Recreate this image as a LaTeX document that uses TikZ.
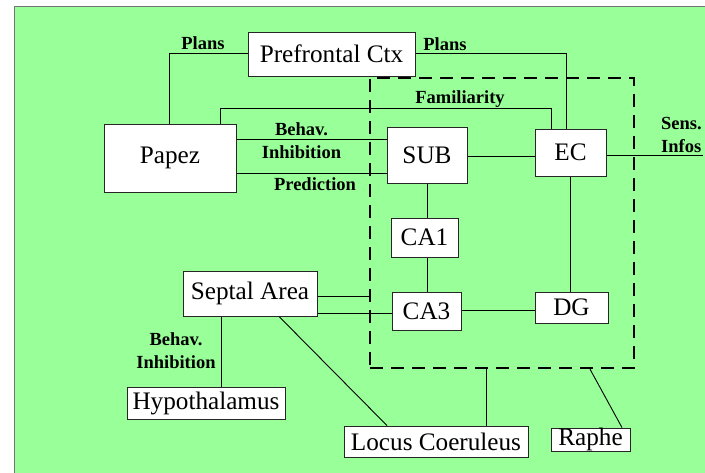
\documentclass[tikz,border=0pt]{standalone}
\usepackage{fontspec}
\setmainfont{Liberation Serif}
\usetikzlibrary{backgrounds}
\begin{document}
\begin{tikzpicture}[x=1pt,y=-1pt,
  box/.style={draw=black!85, line width=0.9pt, fill=white, inner sep=0pt, font=\fontsize{25.2}{28}\selectfont},
  lbl/.style={inner sep=0pt, font=\fontsize{18.5}{22.5}\selectfont\bfseries},
  conn/.style={draw=black, line width=0.9pt},
  hipbox/.style={draw=black, line width=2.3pt, dash pattern=on 13pt off 8pt, inner sep=0pt}
]
\useasboundingbox (0,0) rectangle (705,472);

% boxes
\node[box, minimum width=167pt, minimum height=44pt] (pfc) at (331.5,54) {Prefrontal Ctx};
\node[box, minimum width=132pt, minimum height=68pt] (papez) at (170,158) {Papez};
\node[box, minimum width=80pt, minimum height=56pt] (sub) at (427,155) {SUB};
\node[box, minimum width=71pt, minimum height=47pt] (ec) at (570.5,152.5) {EC};
\node[box, minimum width=67pt, minimum height=39pt] (ca1) at (424.5,237.5) {CA1};
\node[box, minimum width=69pt, minimum height=38pt] (ca3) at (426.5,311) {CA3};
\node[box, minimum width=73pt, minimum height=31pt] (dg) at (571.5,307.5) {DG};
\node[box, minimum width=134pt, minimum height=45pt] (sep) at (250,293.5) {Septal Area};
\node[box, minimum width=158pt, minimum height=32pt] (hyp) at (206,403) {Hypothalamus};
\node[box, minimum width=184pt, minimum height=31pt] (lc) at (436,441.5) {Locus Coeruleus};
\node[box, minimum width=79pt, minimum height=23pt] (raphe) at (590.5,439.5) {Raphe};

\coordinate (sens) at (703,155);

% labels
\node[lbl] (l1) at (203,43) {Plans};
\node[lbl] (l2) at (445,44) {Plans};
\node[lbl] (l3) at (460,99) {Familiarity};
\node[lbl, align=center] (l4) at (301.5,140.5) {Behav.\\Inhibition};
\node[lbl] (l5) at (315,184.5) {Prediction};
\node[lbl, align=center] (l6) at (176,350.5) {Behav.\\Inhibition};
\node[lbl, align=left, anchor=west] (l7) at (661,135) {Sens.\\Infos};

\begin{pgfonlayer}{background}
\fill[white] (0,0) rectangle (705,472);
\fill[fill={rgb,255:red,153;green,255;blue,153}] (14,6) rectangle (706,473);
\draw[black!55, line width=1pt] (14,473) -- (14,6) -- (706,6);

% hippocampal dashed region
\node[hipbox, minimum width=264pt, minimum height=290pt] (hippo) at (502,223) {};

% connectors
\draw[conn] (papez.north -| 169,0) |- (pfc.west |- 0,53);
\draw[conn] (pfc.east |- 0,53) -| (ec.north -| 566,0);
\draw[conn] (papez.north -| 220,0) |- (551,108) -- (ec.north -| 551,0);
\draw[conn] (papez.east |- 0,139) -- (sub.west |- 0,139);
\draw[conn] (papez.east |- 0,173) -- (sub.west |- 0,173);
\draw[conn] (sub.east |- 0,156) -- (ec.west |- 0,156);
\draw[conn] (ec.east |- 0,155) -- (sens);
\draw[conn] (sub.south -| 427,0) -- (ca1.north -| 427,0);
\draw[conn] (ca1.south -| 427,0) -- (ca3.north -| 427,0);
\draw[conn] (ca3.east |- 0,310) -- (dg.west |- 0,310);
\draw[conn] (ec.south -| 570,0) -- (dg.north -| 570,0);
\draw[conn] (sep.east |- 0,296) -- (hippo.west |- 0,296);
\draw[conn] (sep.east |- 0,313) -- (ca3.west |- 0,313);
\draw[conn] (sep.south -| 221,0) -- (hyp.north -| 221,0);
\draw[conn] (sep.south -| 279,0) -- (lc.north -| 387,0);
\draw[conn] (hippo.south -| 486,0) -- (lc.north -| 486,0);
\draw[conn] (hippo.south -| 590,0) -- (raphe.north -| 622,0);
\end{pgfonlayer}
\end{tikzpicture}
\end{document}
